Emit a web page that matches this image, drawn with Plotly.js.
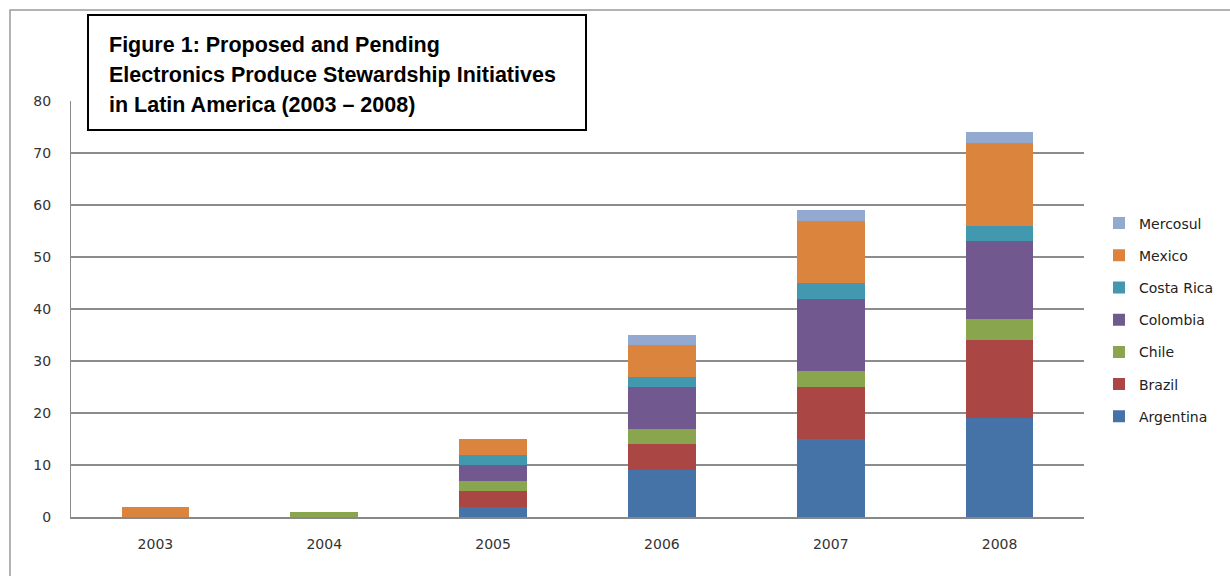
<!DOCTYPE html>
<html>
<head>
<meta charset="utf-8">
<script src="https://cdn.plot.ly/plotly-3.0.1.min.js"></script>
<style>
html,body{margin:0;padding:0;background:#fff;}
#chart{width:1230px;height:576px;}
</style>
</head>
<body>
<div id="chart"></div>
<script>
const years = ['2003', '2004', '2005', '2006', '2007', '2008'];
const argentina = [0, 0, 2, 9, 15, 19];
const brazil = [0, 0, 3, 5, 10, 15];
const chile = [0, 1, 2, 3, 3, 4];
const colombia = [0, 0, 3, 8, 14, 15];
const costaRica = [0, 0, 2, 2, 3, 3];
const mexico = [2, 0, 3, 6, 12, 16];
const mercosul = [0, 0, 0, 2, 2, 2];

const seriesNames = ['Argentina', 'Brazil', 'Chile', 'Colombia', 'Costa Rica', 'Mexico', 'Mercosul'];
const seriesValues = [argentina, brazil, chile, colombia, costaRica, mexico, mercosul];
const seriesColors = ['#4572A7', '#AA4643', '#89A54E', '#71588F', '#4198AF', '#DB843D', '#93A9CF'];

const titleLines = ['Figure 1: Proposed and Pending', 'Electronics Produce Stewardship Initiatives', 'in Latin America (2003 \u2013 2008)'];

const traces = seriesNames.map((n, i) => ({
  type: 'bar',
  name: n,
  x: years,
  y: seriesValues[i],
  legendgroup: n,
  legendrank: 1000 - i,
  marker: {color: seriesColors[i], line: {width: 0}},
  hoverinfo: 'x+y+name'
}));

const W = 1230, H = 576;
const L = 71, R = 146, T = 101, B = 59;
const pw = W - L - R, ph = H - T - B;
const px = v => (v - L) / pw;
const py = v => (H - B - v) / ph;

const annotations = titleLines.map((t, i) => ({
  xref: 'paper', yref: 'paper',
  x: px(107), y: py(45 + i * 30),
  xanchor: 'left', yanchor: 'middle',
  text: '<b>' + t + '</b>', showarrow: false,
  font: {family: 'Liberation Sans, Arial, sans-serif', size: 21.5, color: '#000'}
}));

const layout = {
  width: W, height: H,
  margin: {l: L, r: R, t: T, b: B, pad: 0, autoexpand: false},
  paper_bgcolor: '#fff', plot_bgcolor: '#fff',
  barmode: 'stack',
  bargap: 0.6,
  showlegend: true,
  legend: {
    x: px(1099), y: py(320), xanchor: 'left', yanchor: 'middle',
    traceorder: 'grouped',
    tracegroupgap: 11,
    font: {family: 'DejaVu Sans, sans-serif', size: 14, color: '#222'},
    bgcolor: 'rgba(0,0,0,0)'
  },
  xaxis: {
    type: 'category',
    showgrid: false,
    showline: true, linecolor: '#888', linewidth: 1.5,
    ticks: '',
    tickfont: {family: 'DejaVu Sans, sans-serif', size: 14, color: '#333'},
    ticklabelstandoff: 14,
    zeroline: false
  },
  yaxis: {
    range: [0, 80], dtick: 10,
    showgrid: true, gridcolor: '#8c8c8c', gridwidth: 1.5,
    showline: true, linecolor: '#8c8c8c', linewidth: 1,
    zeroline: false,
    ticks: '',
    tickfont: {family: 'DejaVu Sans, sans-serif', size: 14, color: '#333'},
    ticklabelstandoff: 16
  },
  shapes: [
    {type: 'rect', xref: 'paper', yref: 'paper', x0: px(10), x1: px(1240), y0: py(600), y1: py(10),
     line: {color: '#9a9a9a', width: 1.5}, fillcolor: 'rgba(0,0,0,0)', layer: 'below'},
    {type: 'rect', xref: 'paper', yref: 'paper', x0: px(88), x1: px(586), y0: py(130), y1: py(15),
     line: {color: '#000', width: 2}, fillcolor: '#fff', layer: 'above'}
  ],
  annotations: annotations
};

Plotly.newPlot('chart', traces, layout, {displayModeBar: false, staticPlot: true});
</script>
</body>
</html>
